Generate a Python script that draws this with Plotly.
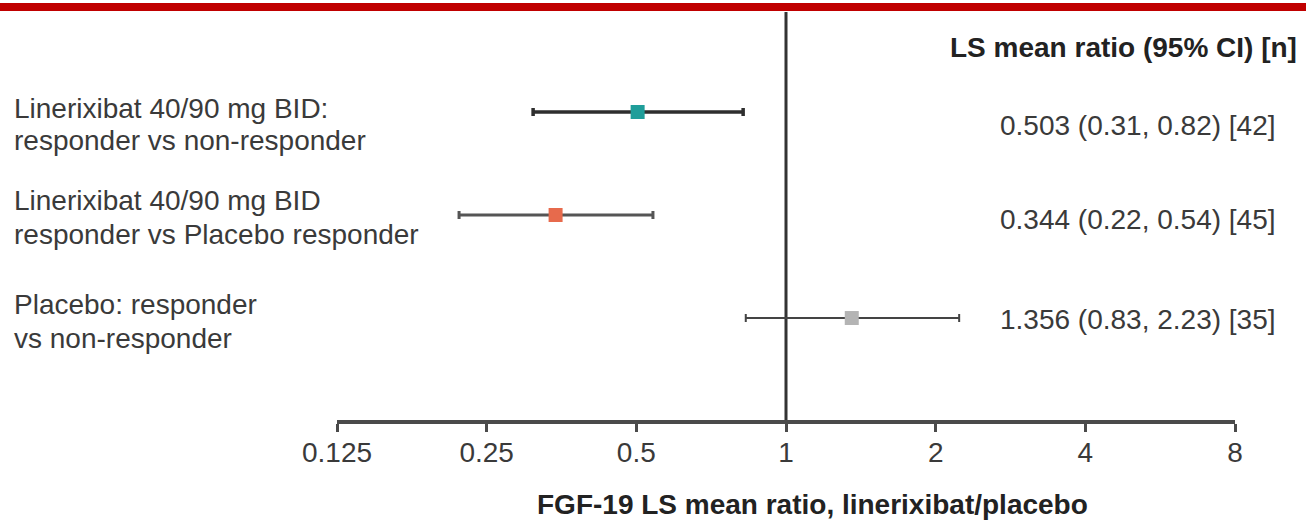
import numpy as np
import plotly.graph_objects as go

# ---------------- data ----------------
label_line1 = ["Linerixibat 40/90 mg BID:", "Linerixibat 40/90 mg BID", "Placebo: responder"]
label_line2 = ["responder vs non-responder", "responder vs Placebo responder", "vs non-responder"]
ratio = [0.503, 0.344, 1.356]
ci_low = [0.31, 0.22, 0.83]
ci_high = [0.82, 0.54, 2.23]
n_obs = [42, 45, 35]
tick_vals = [0.125, 0.25, 0.5, 1, 2, 4, 8]
tick_text = ["0.125", "0.25", "0.5", "1", "2", "4", "8"]
ref_value = 1
header_text = "LS mean ratio (95% CI) [n]"
x_title = "FGF-19 LS mean ratio, linerixibat/placebo"

# ---------------- style ----------------
W, H = 1306, 522
L, R, T, B = 337, 1235, 12, 420  # plot area in pixels
marker_colors = ["#1f9e9a", "#e76a4c", "#b4b4b4"]
bar_colors = ["#2e2e2e", "#555555", "#444444"]
bar_widths = [3.5, 3, 2]
FONT = "Liberation Sans, Arial, sans-serif"
TXT = "#3a3a3a"

nrows = len(ratio)
ypos = [nrows - i for i in range(nrows)]
yr = [0.01, 3.971]

def px_x(px):
    return (px - L) / (R - L)

def px_y(py):
    return (B - py) / (B - T)

fig = go.Figure()
for i in range(nrows):
    fig.add_trace(go.Scatter(
        x=[ratio[i]], y=[ypos[i]], mode="markers",
        marker=dict(symbol="square", size=14, color=marker_colors[i], line=dict(width=0)),
        error_x=dict(type="data", symmetric=False,
                     array=[ci_high[i] - ratio[i]], arrayminus=[ratio[i] - ci_low[i]],
                     color=bar_colors[i], thickness=bar_widths[i], width=4),
        showlegend=False, hoverinfo="skip",
    ))

# reference line at ratio = 1
fig.add_shape(type="line", xref="x", yref="paper", x0=ref_value, x1=ref_value, y0=0, y1=1,
              line=dict(color="#333333", width=3), layer="below")

# red banner at top
fig.add_shape(type="rect", xref="paper", yref="paper",
              x0=px_x(0), x1=px_x(W), y0=px_y(11), y1=px_y(3),
              fillcolor="#c00000", line=dict(width=0), layer="above")

ann = []
line1_py = [108, 200, 304]
line2_py = [140, 234, 338]
right_py = [125, 219, 319]
for i in range(nrows):
    ann.append(dict(x=px_x(12), y=px_y(line1_py[i]), xref="paper", yref="paper",
                    text=label_line1[i], showarrow=False, xanchor="left", yanchor="middle",
                    font=dict(family=FONT, size=28, color=TXT)))
    ann.append(dict(x=px_x(12), y=px_y(line2_py[i]), xref="paper", yref="paper",
                    text=label_line2[i], showarrow=False, xanchor="left", yanchor="middle",
                    font=dict(family=FONT, size=28, color=TXT)))
    ann.append(dict(x=px_x(998), y=px_y(right_py[i]), xref="paper", yref="paper",
                    text=f"{ratio[i]:.3f} ({ci_low[i]:.2f}, {ci_high[i]:.2f}) [{n_obs[i]}]",
                    showarrow=False, xanchor="left", yanchor="middle",
                    font=dict(family=FONT, size=28, color=TXT)))

ann.append(dict(x=px_x(948), y=px_y(47), xref="paper", yref="paper",
                text=f"<b>{header_text}</b>", showarrow=False, xanchor="left", yanchor="middle",
                font=dict(family=FONT, size=28, color="#222222")))
ann.append(dict(x=px_x(812), y=px_y(505), xref="paper", yref="paper",
                text=f"<b>{x_title}</b>", showarrow=False, xanchor="center", yanchor="middle",
                font=dict(family=FONT, size=28, color="#222222")))

fig.update_layout(
    width=W, height=H,
    margin=dict(l=L, r=W - R, t=T, b=H - B, pad=0),
    paper_bgcolor="white", plot_bgcolor="white",
    annotations=ann,
    xaxis=dict(type="log", range=[np.log10(tick_vals[0]), np.log10(tick_vals[-1])],
               tickvals=tick_vals, ticktext=tick_text,
               showline=True, linecolor="#4a4a4a", linewidth=4,
               ticks="outside", ticklen=8, tickwidth=3, tickcolor="#4a4a4a",
               ticklabelstandoff=-4,
               showgrid=False, zeroline=False,
               tickfont=dict(family=FONT, size=28, color=TXT)),
    yaxis=dict(range=yr, visible=False, showgrid=False, zeroline=False),
)

fig.write_html("out.html")
